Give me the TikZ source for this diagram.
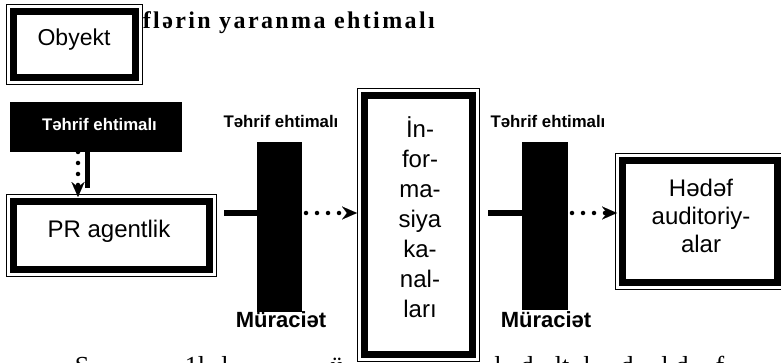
\documentclass[tikz,border=0pt]{standalone}
\usepackage{fontspec}
\setmainfont{Liberation Serif}
\newfontfamily\arial{Liberation Sans}
\newfontfamily\titlefont[LetterSpace=10]{Liberation Serif}
\usetikzlibrary{arrows.meta}
\tikzset{
  frame/.style={draw=black, fill=white, line width=7pt, inner sep=0pt, outer sep=7.5pt,
    preaction={draw=black, line width=15pt},
    preaction={draw=white, line width=13pt}},
  bar/.style={fill=black, inner sep=0pt, outer sep=0pt},
  boxtxt/.style={inner sep=0pt, align=center, font=\arial\fontsize{24}{30}\selectfont},
  lbl/.style={inner sep=0pt, font=\arial\bfseries\fontsize{16.8}{20}\selectfont},
  mur/.style={inner sep=0pt, font=\arial\bfseries\fontsize{22}{26}\selectfont},
  frag/.style={inner sep=0pt, font=\fontsize{26}{30}\selectfont},
  solidln/.style={line width=5.5pt},
  dotln/.style={line width=4.5pt, line cap=round, dash pattern=on 0pt off 11pt,
    -{Stealth[length=15pt, width=13pt, inset=5pt, line width=0.01pt]}}
}
\begin{document}
\begin{tikzpicture}[x=1pt, y=-1pt]
\useasboundingbox (0,0) rectangle (781,363);
\fill[white] (0,0) rectangle (781,363);
\clip (0,0) rectangle (781,363);

% partly visible caption line at the bottom
\foreach \x/\t [count=\i] in {82/S, 195/1l, 225/l, 337/ü, 498/l, 527/d, 562/lt, 587/l, 627/d, 665/l, 682/d, 720/f}
  \node[frag, anchor=base] (frag\i) at (\x,374) {\t};

% title (partly hidden by the Obyekt box)
\node[anchor=base east, inner sep=0pt, font=\titlefont\bfseries\fontsize{24}{28}\selectfont] (title) at (435,29)
  {Təhriflərin yaranma ehtimalı};

% frames
\node[frame, minimum width=122pt, minimum height=66pt] (obj) at (74.5,45) {};
\node[boxtxt, anchor=base, font=\arial\fontsize{23}{27}\selectfont] (objt) at (74,46) {Obyekt};

\node[frame, minimum width=196pt, minimum height=68pt] (pr) at (111.5,235.5) {};
\node[boxtxt, anchor=base] (prt) at (109,238) {PR agentlik};

\node[frame, minimum width=108pt, minimum height=259pt] (info) at (418.5,225) {};
\node[boxtxt, anchor=base] (infot) at (420,317) {İn-\\for-\\ma-\\siya\\ka-\\nal-\\ları};

\node[frame, minimum width=154.5pt, minimum height=122pt] (goal) at (699.75,221.5) {};
\node[boxtxt, anchor=base, font=\arial\fontsize{24}{27.5}\selectfont] (goalt) at (701,252) {Hədəf\\auditoriy-\\alar};

% black source box
\node[bar, minimum width=172pt, minimum height=50pt] (blk) at (96,127) {};
\node[lbl, anchor=base, text=white] (blkt) at (99.5,131) {Təhrif ehtimalı};

% bars
\node[bar, minimum width=45pt, minimum height=170pt] (bar1) at (279.5,227) {};
\node[bar, minimum width=46pt, minimum height=168pt] (bar2) at (545,226) {};
\node[lbl, anchor=base] (lab1) at (281,127.5) {Təhrif ehtimalı};
\node[lbl, anchor=base] (lab2) at (548,127.5) {Təhrif ehtimalı};
\node[mur, anchor=base] (mur1) at (281,327) {Müraciət};
\node[mur, anchor=base] (mur2) at (546,327) {Müraciət};

% connectors
\coordinate (h1) at (0,213);
\draw[solidln] ([xshift=77.5pt]blk.south west) -- ++(0,36);
\draw[dotln, shorten >=-3pt] ([xshift=68pt]blk.south west) -- ([xshift=72pt]pr.north west);
\draw[solidln, shorten <=7pt] (pr.east |- h1) -- (bar1.west |- h1);
\draw[dotln, shorten <=4pt] (bar1.east |- h1) -- (info.west |- h1);
\draw[solidln, shorten <=8pt] (info.east |- h1) -- (bar2.west |- h1);
\draw[dotln, shorten <=4pt, shorten >=-2pt] (bar2.east |- h1) -- (goal.west |- h1);
\end{tikzpicture}
\end{document}
